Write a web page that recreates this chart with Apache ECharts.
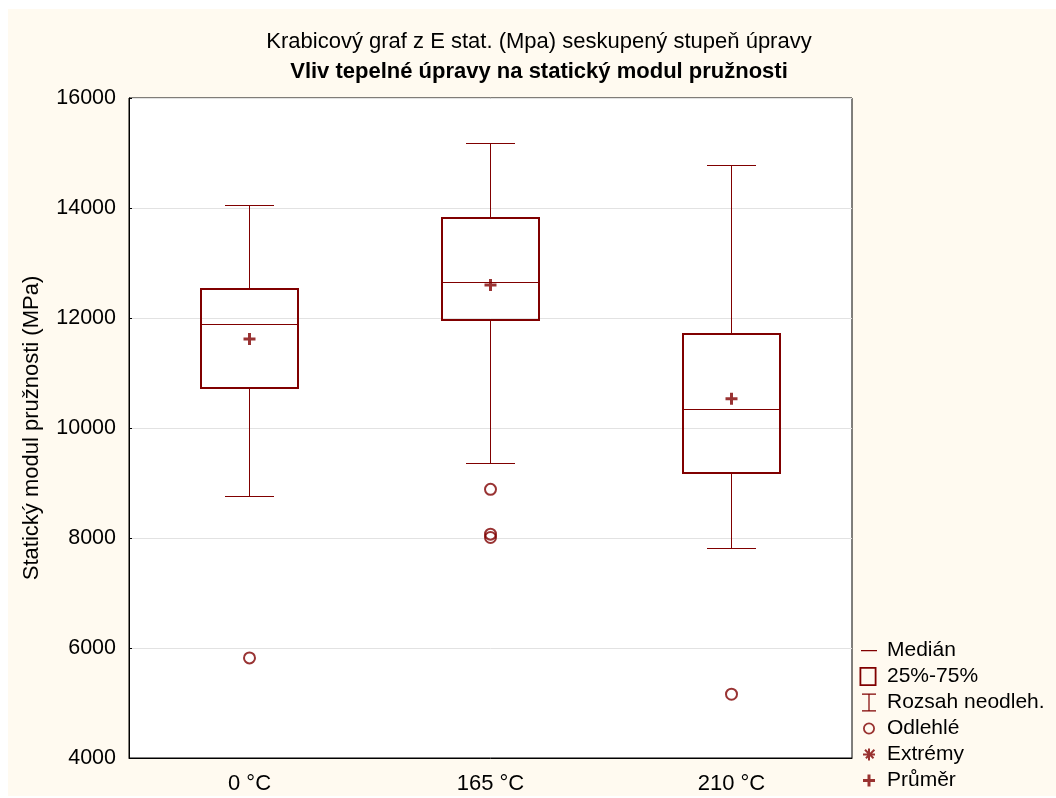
<!DOCTYPE html>
<html>
<head>
<meta charset="utf-8">
<script src="https://cdn.jsdelivr.net/npm/echarts@6/dist/echarts.min.js"></script>
<style>
html,body{margin:0;padding:0;background:#ffffff;}
#chart{position:absolute;left:8px;top:9px;width:1048px;height:787px;}
</style>
</head>
<body>
<div id="chart"></div>
<script>
// ---- data ----
const categories = ['0 °C', '165 °C', '210 °C'];
// [min (non-outlier), Q1, median, Q3, max (non-outlier)]
const boxStats = [
  [8750, 10730, 11880, 12530, 14050],
  [9350, 11960, 12650, 13820, 15170],
  [7810, 9180, 10330, 11710, 14780]
];
const means = [11620, 12600, 10530];
const outliers0 = [5820];
const outliers1 = [8885, 8070, 8010];
const outliers2 = [5160];
const yTicks = { min: 4000, max: 16000, interval: 2000 };

const titleText = 'Krabicový graf z E stat. (Mpa) seskupený stupeň úpravy';
const subTitleText = 'Vliv tepelné úpravy na statický modul pružnosti';
const yName = 'Statický modul pružnosti (MPa)';
const legendNames = ['Medián', '25%-75%', 'Rozsah neodleh.', 'Odlehlé', 'Extrémy', 'Průměr'];

// ---- build ----
const RED = '#800000';
const FONT = "'Liberation Sans', Arial, sans-serif";
const boxRows = boxStats.map((s, i) => [i].concat(s));
const outlierData = [];
[outliers0, outliers1, outliers2].forEach((arr, i) => arr.forEach(v => outlierData.push([i, v])));
const meanData = means.map((v, i) => [i, v]);

function crisp(v) { return Math.round(v - 0.5) + 0.5; }

function geom(api) {
  const x = api.value(0);
  const lo = api.coord([x, api.value(1)]);
  const q1 = api.coord([x, api.value(2)]);
  const md = api.coord([x, api.value(3)]);
  const q3 = api.coord([x, api.value(4)]);
  const hi = api.coord([x, api.value(5)]);
  const w = api.size([1, 0])[0] * 0.4;
  return { cx: crisp(lo[0]), lo: lo[1], q1: q1[1], md: md[1], q3: q3[1], hi: hi[1], w: w };
}

function renderWhisker(params, api) {
  const g = geom(api);
  const half = g.w / 4;
  const st = { stroke: RED, lineWidth: 1, fill: null };
  return {
    type: 'group',
    children: [
      { type: 'line', shape: { x1: g.cx, y1: crisp(g.hi), x2: g.cx, y2: Math.round(g.q3) }, style: st },
      { type: 'line', shape: { x1: g.cx, y1: Math.round(g.q1), x2: g.cx, y2: crisp(g.lo) }, style: st },
      { type: 'line', shape: { x1: Math.round(g.cx - half), y1: crisp(g.hi), x2: Math.round(g.cx + half), y2: crisp(g.hi) }, style: st },
      { type: 'line', shape: { x1: Math.round(g.cx - half), y1: crisp(g.lo), x2: Math.round(g.cx + half), y2: crisp(g.lo) }, style: st }
    ]
  };
}
function renderBox(params, api) {
  const g = geom(api);
  const x0 = Math.round(g.cx - g.w / 2), x1 = Math.round(g.cx + g.w / 2);
  const y0 = Math.round(g.q3), y1 = Math.round(g.q1);
  return {
    type: 'rect',
    shape: { x: x0, y: y0, width: x1 - x0, height: y1 - y0 },
    style: { stroke: RED, lineWidth: 2, fill: 'rgba(0,0,0,0)' }
  };
}
function renderMedian(params, api) {
  const g = geom(api);
  return {
    type: 'line',
    shape: { x1: Math.round(g.cx - g.w / 2), y1: crisp(g.md), x2: Math.round(g.cx + g.w / 2), y2: crisp(g.md) },
    style: { stroke: RED, lineWidth: 1, fill: null }
  };
}

// legend icons, 24x20 boxes with invisible corner anchors
const ANCH = 'M0 0h0.01v0.01h-0.01z M24 20h-0.01v-0.01h0.01z ';
const iconMedian = 'path://' + ANCH + 'M3 9.5h16v1.2h-16z';
const iconBox = 'path://' + ANCH + 'M1.5 0.5h17v19h-17z M3.3 2.3v15.4h13.4v-15.4z';
const iconRange = 'path://' + ANCH + 'M4 1h14v1.2h-6.4v15.6h6.4v1.2h-14v-1.2h6.4v-15.6h-6.4z';
const iconOut = 'path://' + ANCH + 'M11 4a6 6 0 1 1 0 12a6 6 0 1 1 0 -12z M11 5.8a4.2 4.2 0 1 0 0 8.4a4.2 4.2 0 1 0 0 -8.4z';
const iconExt = 'path://' + ANCH +
  'M10 4h2v12h-2z M5 9h12v2h-12z ' +
  'M6.3 5.9l1.4 -1.4l8.5 8.5l-1.4 1.4z M15.7 4.5l1.4 1.4l-8.5 8.5l-1.4 -1.4z';
const iconMean = 'path://' + ANCH + 'M9.5 4h3v4.5h4.5v3h-4.5v4.5h-3v-4.5h-4.5v-3h4.5z';
const plusSymbol = 'path://M4.5 0h3v4.5h4.5v3h-4.5v4.5h-3v-4.5h-4.5v-3h4.5z';
const legendIcons = [iconMedian, iconBox, iconRange, iconOut, iconExt, iconMean];

const chart = echarts.init(document.getElementById('chart'));
chart.setOption({
  backgroundColor: '#FFFAF0',
  animation: false,
  title: [
    { text: titleText, left: 526, top: 17, textAlign: 'center',
      textStyle: { fontFamily: FONT, fontSize: 22, fontWeight: 'normal', color: '#000' } },
    { text: subTitleText, left: 526, top: 47, textAlign: 'center',
      textStyle: { fontFamily: FONT, fontSize: 22, fontWeight: 'bold', color: '#000' } }
  ],
  legend: {
    orient: 'vertical',
    left: 845, top: 626, height: 160,
    itemWidth: 24, itemHeight: 20, itemGap: 5,
    selectedMode: false,
    itemStyle: { color: RED, borderWidth: 0 },
    textStyle: { fontFamily: FONT, fontSize: 21, color: '#000', lineHeight: 20 },
    data: legendNames.map((n, i) => ({ name: n, icon: legendIcons[i] }))
  },
  grid: {
    left: 121, top: 89, width: 723, height: 660,
    show: true, backgroundColor: '#ffffff', borderColor: '#000', borderWidth: 1
  },
  xAxis: {
    type: 'category', data: categories, boundaryGap: true,
    axisLine: { lineStyle: { color: '#000' } },
    axisTick: { alignWithLabel: true, inside: true, length: 4, lineStyle: { color: '#000' } },
    axisLabel: { fontFamily: FONT, fontSize: 22, color: '#000', margin: 15 },
    splitLine: { show: false }
  },
  yAxis: {
    type: 'value', min: yTicks.min, max: yTicks.max, interval: yTicks.interval,
    name: yName, nameLocation: 'middle', nameGap: 86,
    nameTextStyle: { fontFamily: FONT, fontSize: 22, color: '#000' },
    axisLine: { show: true, lineStyle: { color: '#000' } },
    axisTick: { show: true, inside: true, length: 3, lineStyle: { color: '#000' } },
    axisLabel: { fontFamily: FONT, fontSize: 21.5, color: '#000', margin: 13,
      formatter: v => String(v) },
    splitLine: { lineStyle: { color: '#e2e2e2' } }
  },
  series: [
    { name: 'Rozsah neodleh.', type: 'custom', renderItem: renderWhisker, data: boxRows,
      itemStyle: { color: RED }, encode: { x: 0, y: [1, 2, 3, 4, 5] }, z: 2 },
    { name: '25%-75%', type: 'custom', renderItem: renderBox, data: boxRows,
      itemStyle: { color: RED }, encode: { x: 0, y: [1, 2, 3, 4, 5] }, z: 3 },
    { name: 'Medián', type: 'custom', renderItem: renderMedian, data: boxRows,
      itemStyle: { color: RED }, encode: { x: 0, y: [1, 2, 3, 4, 5] }, z: 4 },
    { name: 'Odlehlé', type: 'scatter', data: outlierData, symbol: 'circle', symbolSize: 11,
      itemStyle: { color: 'rgba(0,0,0,0)', borderColor: RED, borderWidth: 2 }, z: 5 },
    { name: 'Extrémy', type: 'scatter', data: [], symbol: 'circle', itemStyle: { color: RED } },
    { name: 'Průměr', type: 'scatter', data: meanData, symbol: plusSymbol, symbolSize: 12,
      itemStyle: { color: RED }, z: 6 }
  ]
});
</script>
</body>
</html>
